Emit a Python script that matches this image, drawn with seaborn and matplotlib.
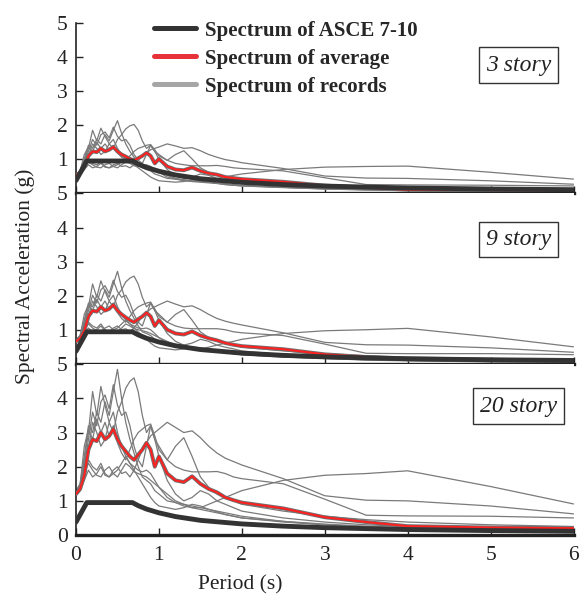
import numpy as np
import pandas as pd
from matplotlib import pyplot as plt
from matplotlib.lines import Line2D
import seaborn as sns

sns.set_style('ticks')
plt.rcParams['font.family'] = ['Liberation Serif', 'DejaVu Serif']

periods = [0, 0.05, 0.1, 0.15, 0.2, 0.25, 0.3, 0.35, 0.4, 0.45, 0.5, 0.55, 0.6, 0.65, 0.7,
           0.75, 0.8, 0.85, 0.9, 0.95, 1.0, 1.1, 1.2, 1.3, 1.4, 1.5, 1.6, 1.7, 1.8, 1.9, 2.0,
           2.5, 3.0, 3.5, 4.0, 5.0, 6.0]

# ASCE 7-10 design spectrum (same for all buildings)
asce_periods = [0, 0.13, 0.68, 0.75, 0.85, 1.0, 1.2, 1.5, 2.0, 2.5, 3.0, 4.0, 5.0, 6.0]
asce_sa = [0.38, 0.95, 0.95, 0.86, 0.76, 0.65, 0.54, 0.43, 0.325, 0.26, 0.215, 0.16, 0.13, 0.11]

# ---- 3 story
rec3 = {
    'GM1': [0.55, 0.66, 1.01, 1.41, 1.32, 1.58, 1.45, 1.72, 1.54, 1.85, 2.13, 1.76, 1.45, 1.23, 1.06, 0.88, 0.75, 0.7, 0.66, 0.57, 0.53, 0.44, 0.42, 0.4, 0.37, 0.35, 0.33, 0.31, 0.29, 0.26, 0.24, 0.18, 0.13, 0.1, 0.08, 0.06, 0.04],
    'GM2': [0.53, 0.62, 0.88, 1.1, 1.45, 1.32, 1.14, 1.23, 1.45, 1.32, 1.58, 1.72, 1.89, 1.98, 2.02, 1.85, 1.54, 1.32, 1.41, 1.23, 1.14, 0.97, 1.14, 1.25, 1.01, 0.75, 0.62, 0.53, 0.48, 0.44, 0.4, 0.31, 0.24, 0.2, 0.17, 0.13, 0.11],
    'GM3': [0.57, 0.62, 0.79, 0.97, 0.88, 0.84, 0.92, 0.79, 0.75, 0.84, 0.88, 0.79, 0.81, 0.75, 0.84, 0.97, 1.1, 1.19, 1.28, 1.32, 1.36, 1.45, 1.39, 1.32, 1.34, 1.25, 1.14, 1.06, 0.99, 0.95, 0.9, 0.73, 0.51, 0.45, 0.44, 0.37, 0.27],
    'GM4': [0.53, 0.59, 0.97, 1.32, 1.85, 1.54, 1.91, 1.67, 1.45, 1.58, 1.32, 1.14, 1.01, 0.92, 0.84, 0.75, 0.66, 0.57, 0.48, 0.42, 0.37, 0.35, 0.33, 0.35, 0.4, 0.37, 0.33, 0.3, 0.26, 0.24, 0.22, 0.17, 0.13, 0.11, 0.09, 0.07, 0.05],
    'GM5': [0.55, 0.62, 0.88, 1.23, 1.58, 1.41, 1.72, 1.8, 1.63, 1.94, 1.67, 1.54, 1.58, 1.41, 1.14, 0.97, 0.88, 1.14, 1.41, 1.23, 1.01, 0.7, 0.53, 0.44, 0.48, 0.57, 0.53, 0.44, 0.4, 0.35, 0.31, 0.22, 0.17, 0.13, 0.11, 0.08, 0.06],
    'GM6': [0.51, 0.57, 0.79, 0.92, 0.84, 0.77, 0.75, 0.84, 0.88, 0.79, 0.75, 0.84, 0.92, 0.88, 0.81, 0.79, 0.77, 0.75, 0.7, 0.66, 0.62, 0.53, 0.44, 0.4, 0.35, 0.33, 0.31, 0.29, 0.26, 0.24, 0.22, 0.18, 0.14, 0.11, 0.1, 0.07, 0.06],
    'GM7': [0.53, 0.57, 0.7, 0.84, 0.75, 0.79, 0.88, 0.77, 0.75, 0.79, 0.84, 0.92, 1.01, 0.92, 0.88, 0.84, 0.81, 0.84, 0.79, 0.7, 0.62, 0.48, 0.42, 0.37, 0.35, 0.35, 0.4, 0.44, 0.48, 0.53, 0.57, 0.7, 0.77, 0.79, 0.8, 0.62, 0.42],
    'GM8': [0.57, 0.66, 1.14, 1.36, 1.23, 1.5, 1.32, 1.45, 1.28, 1.41, 1.19, 1.06, 0.97, 1.1, 1.23, 1.32, 1.36, 1.41, 1.43, 1.28, 1.1, 0.97, 0.88, 0.84, 0.81, 0.81, 0.81, 0.82, 0.79, 0.75, 0.73, 0.66, 0.46, 0.26, 0.25, 0.24, 0.22],
}
avg3 = [0.53, 0.59, 0.77, 1.1, 1.23, 1.21, 1.32, 1.23, 1.28, 1.36, 1.23, 1.14, 1.08, 1.01, 0.97, 1.03, 1.1, 1.19, 1.1, 0.88, 1.01, 0.79, 0.7, 0.68, 0.76, 0.66, 0.59, 0.55, 0.48, 0.45, 0.42, 0.34, 0.23, 0.17, 0.11, 0.1, 0.09]

# ---- 9 story
rec9 = {
    'GM1': [0.7, 0.84, 1.29, 1.79, 1.68, 2.02, 1.85, 2.18, 1.96, 2.35, 2.72, 2.24, 1.85, 1.57, 1.34, 1.12, 0.95, 0.9, 0.84, 0.73, 0.67, 0.56, 0.53, 0.5, 0.48, 0.45, 0.42, 0.39, 0.36, 0.34, 0.31, 0.22, 0.17, 0.12, 0.1, 0.07, 0.06],
    'GM2': [0.67, 0.78, 1.12, 1.4, 1.85, 1.68, 1.46, 1.57, 1.85, 1.68, 2.02, 2.18, 2.41, 2.52, 2.58, 2.35, 1.96, 1.68, 1.79, 1.57, 1.46, 1.23, 1.46, 1.6, 1.29, 0.95, 0.78, 0.67, 0.62, 0.56, 0.5, 0.39, 0.31, 0.25, 0.21, 0.17, 0.14],
    'GM3': [0.73, 0.78, 1.01, 1.23, 1.12, 1.06, 1.18, 1.01, 0.95, 1.06, 1.12, 1.01, 1.04, 0.95, 1.06, 1.23, 1.4, 1.51, 1.62, 1.68, 1.74, 1.85, 1.76, 1.68, 1.71, 1.6, 1.46, 1.34, 1.26, 1.2, 1.15, 0.92, 0.64, 0.57, 0.56, 0.48, 0.35],
    'GM4': [0.67, 0.76, 1.23, 1.68, 2.35, 1.96, 2.44, 2.13, 1.85, 2.02, 1.68, 1.46, 1.29, 1.18, 1.06, 0.95, 0.84, 0.73, 0.62, 0.53, 0.48, 0.45, 0.42, 0.45, 0.5, 0.48, 0.42, 0.38, 0.34, 0.31, 0.28, 0.21, 0.17, 0.13, 0.11, 0.08, 0.07],
    'GM5': [0.7, 0.78, 1.12, 1.57, 2.02, 1.79, 2.18, 2.3, 2.07, 2.46, 2.13, 1.96, 2.02, 1.79, 1.46, 1.23, 1.12, 1.46, 1.79, 1.57, 1.29, 0.9, 0.67, 0.56, 0.62, 0.73, 0.67, 0.56, 0.5, 0.45, 0.39, 0.28, 0.21, 0.17, 0.14, 0.1, 0.08],
    'GM6': [0.64, 0.73, 1.01, 1.18, 1.06, 0.98, 0.95, 1.06, 1.12, 1.01, 0.95, 1.06, 1.18, 1.12, 1.04, 1.01, 0.98, 0.95, 0.9, 0.84, 0.78, 0.67, 0.56, 0.5, 0.45, 0.42, 0.39, 0.36, 0.34, 0.31, 0.28, 0.22, 0.18, 0.15, 0.12, 0.1, 0.07],
    'GM7': [0.67, 0.73, 0.9, 1.06, 0.95, 1.01, 1.12, 0.98, 0.95, 1.01, 1.06, 1.18, 1.29, 1.18, 1.12, 1.06, 1.04, 1.06, 1.01, 0.9, 0.78, 0.62, 0.53, 0.48, 0.45, 0.45, 0.5, 0.56, 0.62, 0.67, 0.73, 0.9, 0.98, 1.01, 1.05, 0.8, 0.51],
    'GM8': [0.73, 0.84, 1.46, 1.74, 1.57, 1.9, 1.68, 1.85, 1.62, 1.79, 1.51, 1.34, 1.23, 1.4, 1.57, 1.68, 1.74, 1.79, 1.82, 1.62, 1.4, 1.23, 1.12, 1.06, 1.04, 1.04, 1.04, 1.04, 1.01, 0.95, 0.92, 0.84, 0.59, 0.32, 0.31, 0.31, 0.28],
}
avg9 = [0.67, 0.76, 0.98, 1.4, 1.57, 1.54, 1.68, 1.57, 1.62, 1.74, 1.57, 1.46, 1.37, 1.29, 1.23, 1.32, 1.4, 1.51, 1.4, 1.12, 1.29, 1.01, 0.9, 0.87, 0.96, 0.84, 0.76, 0.7, 0.62, 0.57, 0.53, 0.44, 0.29, 0.21, 0.15, 0.12, 0.11]

# ---- 20 story
rec20 = {
    'GM1': [1.25, 1.5, 2.3, 3.2, 3.0, 3.6, 3.3, 3.9, 3.5, 4.2, 4.85, 4.0, 3.3, 2.8, 2.4, 2.0, 1.7, 1.6, 1.5, 1.3, 1.2, 1.0, 0.95, 0.9, 0.85, 0.8, 0.75, 0.7, 0.65, 0.6, 0.55, 0.4, 0.3, 0.22, 0.18, 0.13, 0.1],
    'GM2': [1.2, 1.4, 2.0, 2.5, 3.3, 3.0, 2.6, 2.8, 3.3, 3.0, 3.6, 3.9, 4.3, 4.5, 4.6, 4.2, 3.5, 3.0, 3.2, 2.8, 2.6, 2.2, 2.6, 2.85, 2.3, 1.7, 1.4, 1.2, 1.1, 1.0, 0.9, 0.7, 0.55, 0.45, 0.38, 0.3, 0.25],
    'GM3': [1.3, 1.4, 1.8, 2.2, 2.0, 1.9, 2.1, 1.8, 1.7, 1.9, 2.0, 1.8, 1.85, 1.7, 1.9, 2.2, 2.5, 2.7, 2.9, 3.0, 3.1, 3.3, 3.15, 3.0, 3.05, 2.85, 2.6, 2.4, 2.25, 2.15, 2.05, 1.65, 1.15, 1.02, 1.0, 0.85, 0.62],
    'GM4': [1.2, 1.35, 2.2, 3.0, 4.2, 3.5, 4.35, 3.8, 3.3, 3.6, 3.0, 2.6, 2.3, 2.1, 1.9, 1.7, 1.5, 1.3, 1.1, 0.95, 0.85, 0.8, 0.75, 0.8, 0.9, 0.85, 0.75, 0.68, 0.6, 0.55, 0.5, 0.38, 0.3, 0.24, 0.2, 0.15, 0.12],
    'GM5': [1.25, 1.4, 2.0, 2.8, 3.6, 3.2, 3.9, 4.1, 3.7, 4.4, 3.8, 3.5, 3.6, 3.2, 2.6, 2.2, 2.0, 2.6, 3.2, 2.8, 2.3, 1.6, 1.2, 1.0, 1.1, 1.3, 1.2, 1.0, 0.9, 0.8, 0.7, 0.5, 0.38, 0.3, 0.25, 0.18, 0.14],
    'GM6': [1.15, 1.3, 1.8, 2.1, 1.9, 1.75, 1.7, 1.9, 2.0, 1.8, 1.7, 1.9, 2.1, 2.0, 1.85, 1.8, 1.75, 1.7, 1.6, 1.5, 1.4, 1.2, 1.0, 0.9, 0.8, 0.75, 0.7, 0.65, 0.6, 0.55, 0.5, 0.4, 0.32, 0.26, 0.22, 0.17, 0.13],
    'GM7': [1.2, 1.3, 1.6, 1.9, 1.7, 1.8, 2.0, 1.75, 1.7, 1.8, 1.9, 2.1, 2.3, 2.1, 2.0, 1.9, 1.85, 1.9, 1.8, 1.6, 1.4, 1.1, 0.95, 0.85, 0.8, 0.8, 0.9, 1.0, 1.1, 1.2, 1.3, 1.6, 1.75, 1.8, 1.88, 1.42, 0.91],
    'GM8': [1.3, 1.5, 2.6, 3.1, 2.8, 3.4, 3.0, 3.3, 2.9, 3.2, 2.7, 2.4, 2.2, 2.5, 2.8, 3.0, 3.1, 3.2, 3.25, 2.9, 2.5, 2.2, 2.0, 1.9, 1.85, 1.85, 1.85, 1.86, 1.8, 1.7, 1.65, 1.5, 1.05, 0.58, 0.56, 0.55, 0.5],
}
avg20 = [1.2, 1.35, 1.75, 2.5, 2.8, 2.75, 3.0, 2.8, 2.9, 3.1, 2.8, 2.6, 2.45, 2.3, 2.2, 2.35, 2.5, 2.7, 2.5, 2.0, 2.3, 1.8, 1.6, 1.55, 1.72, 1.5, 1.35, 1.25, 1.1, 1.02, 0.95, 0.78, 0.52, 0.38, 0.26, 0.22, 0.2]

panels = [('3 story', rec3, avg3, 0.752), ('9 story', rec9, avg9, 0.728), ('20 story', rec20, avg20, 0.755)]

c_asce = '#333333'
c_rec = '#7a7a7a'
c_avg = '#ff2020'

fig = plt.figure(figsize=(5.82, 5.96), dpi=100)
axes = fig.subplots(3, 1, sharex=True)
fig.subplots_adjust(left=0.1306, right=0.9854, bottom=0.1023, top=0.962, hspace=0)

df_asce = pd.DataFrame({'Period': asce_periods, 'Sa': asce_sa})

for i, (ax, (name, recs, avg, ybox)) in enumerate(zip(axes, panels)):
    df_rec = pd.DataFrame(recs)
    df_rec['Period'] = periods
    df_rec = df_rec.melt(id_vars='Period', var_name='record', value_name='Sa')
    df_avg = pd.DataFrame({'Period': periods, 'Sa': avg})

    sns.lineplot(data=df_rec, x='Period', y='Sa', units='record', estimator=None,
                 color=c_rec, lw=0.9, ax=ax, zorder=2, legend=False)
    # average: red line with a grey rim
    sns.lineplot(data=df_avg, x='Period', y='Sa', color='#707070', lw=2.8, ax=ax, zorder=3)
    sns.lineplot(data=df_avg, x='Period', y='Sa', color=c_avg, lw=1.5, ax=ax, zorder=3.1)
    sns.lineplot(data=df_asce, x='Period', y='Sa', color=c_asce, lw=3.5, ax=ax, zorder=4)

    ax.set_xlim(0, 6)
    ax.set_ylim(0, 5)
    ax.set_xlabel('')
    ax.set_ylabel('')
    ax.set_yticks([0, 1, 2, 3, 4, 5] if i == 2 else [1, 2, 3, 4, 5])
    ax.set_xticks([0, 1, 2, 3, 4, 5, 6])
    ax.tick_params(axis='y', direction='in', length=5, width=1, pad=6, labelsize=15.5, colors='#222222')
    ax.tick_params(axis='x', direction='in', length=5, width=1, pad=8, labelsize=15.5, colors='#222222',
                   labelbottom=(i == 2))
    for s in ['top', 'right']:
        ax.spines[s].set_visible(False)
    ax.spines['left'].set_linewidth(1.2)
    ax.spines['left'].set_color('#222222')
    ax.spines['bottom'].set_linewidth(2.4)
    ax.spines['bottom'].set_color('#222222')
    ax.spines['bottom'].set_zorder(5)

    ax.text(0.89, ybox, name, transform=ax.transAxes, ha='center', va='center',
            fontsize=17, fontstyle='italic', color='#222222',
            bbox=dict(boxstyle='square,pad=0.3', fc='white', ec='#333333', lw=1))

handles = [Line2D([], [], color=c_asce, lw=3.6),
           Line2D([], [], color='#e8323a', lw=3.6),
           Line2D([], [], color='#a6a6a6', lw=3.6)]
labels = ['Spectrum of ASCE 7-10', 'Spectrum of average', 'Spectrum of records']
axes[0].legend(handles, labels, loc='upper left', bbox_to_anchor=(0.14, 1.06), frameon=False,
               prop={'family': 'Liberation Serif', 'weight': 'bold', 'size': 15},
               handlelength=2.0, handletextpad=0.45, labelspacing=0.38, borderaxespad=0)

fig.text(0.043, 0.537, 'Spectral Acceleration (g)', rotation=90, ha='center', va='center',
         fontsize=15.5, color='#222222')
fig.text(0.412, 0.018, 'Period (s)', ha='center', va='center', fontsize=15.5, color='#222222')

fig.savefig('out.png', dpi=100)
